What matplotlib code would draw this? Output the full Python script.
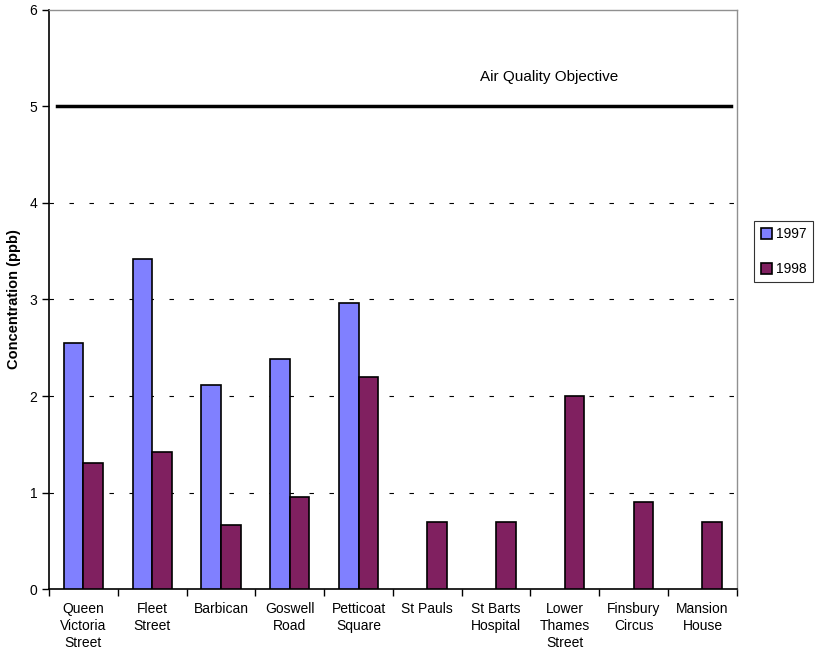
import numpy as np
import matplotlib.pyplot as plt
from matplotlib.ticker import FixedLocator

plt.rcParams['font.family'] = ['Liberation Sans', 'DejaVu Sans']

sites = ['Queen\nVictoria\nStreet', 'Fleet\nStreet', 'Barbican', 'Goswell\nRoad',
         'Petticoat\nSquare', 'St Pauls', 'St Barts\nHospital', 'Lower\nThames\nStreet',
         'Finsbury\nCircus', 'Mansion\nHouse']
conc_1997 = [2.55, 3.42, 2.11, 2.38, 2.96, 0, 0, 0, 0, 0]
conc_1998 = [1.31, 1.42, 0.66, 0.95, 2.20, 0.70, 0.70, 2.00, 0.90, 0.70]
objective = 5

fig = plt.figure(figsize=(8.16, 6.51), dpi=100)
ax = fig.add_axes([0.060, 0.095, 0.843, 0.890])

x = np.arange(len(sites))
w = 0.285
b1 = ax.bar(x - w / 2, conc_1997, w, color='#8080FF', edgecolor='black', linewidth=1.2,
            label='1997', zorder=3)
b2 = ax.bar(x + w / 2, conc_1998, w, color='#802060', edgecolor='black', linewidth=1.2,
            label='1998', zorder=3)
# no 1997 measurement at the later sites
for rect, v in zip(b1, conc_1997):
    if v == 0:
        rect.set_visible(False)

ax.set_xlim(-0.5, len(sites) - 0.5)
ax.set_ylim(0, 6)
ax.set_yticks(range(0, 7))
for yv in range(1, 5):
    ax.axhline(yv, color='black', linestyle=(0, (4, 14)), linewidth=0.8, zorder=1)

ax.plot([-0.39, len(sites) - 0.59], [objective, objective], color='black', linewidth=2.5, zorder=4)
ax.text(6.77, 5.3, 'Air Quality Objective', fontsize=11, ha='center', va='center')

ax.xaxis.set_major_locator(FixedLocator(x))
ax.set_xticklabels(sites, fontsize=10, linespacing=1.3)
ax.xaxis.set_minor_locator(FixedLocator(np.arange(-0.5, len(sites), 1)))
ax.tick_params(axis='x', which='major', length=0, pad=9)
ax.tick_params(axis='x', which='minor', length=5, direction='out', width=1)
ax.tick_params(axis='y', length=5, direction='out', labelsize=10, width=1)

ax.set_ylabel('Concentration (ppb)', fontsize=10.5, fontweight='bold', labelpad=6)

for s in ['left', 'bottom']:
    ax.spines[s].set_color('black')
    ax.spines[s].set_linewidth(1.2)
for s in ['top', 'right']:
    ax.spines[s].set_color('#909090')
    ax.spines[s].set_linewidth(1.0)

leg = fig.legend(handles=[b1, b2], loc='upper left', bbox_to_anchor=(0.916, 0.671),
                 fontsize=10, frameon=True, fancybox=False, edgecolor='black',
                 handlelength=0.8, handleheight=0.8, handletextpad=0.3,
                 labelspacing=1.5, borderpad=0.45)
leg.get_frame().set_linewidth(0.8)

fig.savefig('out.png', dpi=100)
